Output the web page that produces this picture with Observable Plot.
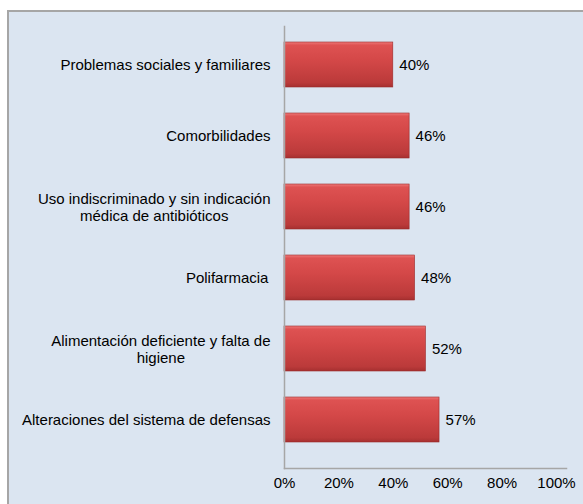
<!DOCTYPE html>
<html>
<head>
<meta charset="utf-8">
<script src="https://cdn.jsdelivr.net/npm/d3@7"></script>
<script src="https://cdn.jsdelivr.net/npm/@observablehq/plot@0.6"></script>
<style>
  html, body { margin: 0; padding: 0; background: #ffffff; overflow: hidden; width: 583px; height: 504px; }
  #box { position: absolute; left: 7px; top: 10px; width: 600px; height: 520px; border: 2px solid #a6a6a6; background: #dbe5f1; }
  #chart { position: absolute; left: 0; top: 0; }
</style>
</head>
<body>
<div id="box"></div>
<div id="chart"></div>
<script>
const categories = [
  "Problemas sociales y familiares",
  "Comorbilidades",
  "Uso indiscriminado y sin indicación\nmédica de antibióticos",
  "Polifarmacia ",
  "Alimentación deficiente y falta de\nhigiene",
  "Alteraciones del sistema de defensas"
];
const values = [40, 46, 46, 48, 52, 57];
const tickValues = [0, 20, 40, 60, 80, 100];

const data = categories.map((c, i) => ({cat: c, value: values[i]}));
const font = "'Liberation Sans', Arial, sans-serif";

const ctx = document.createElement("canvas").getContext("2d");
ctx.font = "15px 'Liberation Sans'";
const blockWidth = s => Math.max(...s.split("\n").map(l => ctx.measureText(l.trimEnd()).width));

const gradDefs = () => {
  const ns = "http://www.w3.org/2000/svg";
  const defs = document.createElementNS(ns, "defs");
  const g = document.createElementNS(ns, "linearGradient");
  g.setAttribute("id", "barGrad");
  g.setAttribute("x1", "0"); g.setAttribute("y1", "0");
  g.setAttribute("x2", "0"); g.setAttribute("y2", "1");
  [["0%", "#ef7a7a"], ["7%", "#de5252"], ["40%", "#d44848"], ["90%", "#bb3a3a"], ["100%", "#a63030"]].forEach(([o, c]) => {
    const s = document.createElementNS(ns, "stop");
    s.setAttribute("offset", o); s.setAttribute("stop-color", c);
    g.appendChild(s);
  });
  defs.appendChild(g);
  return defs;
};

const labelMarks = categories.map(c => Plot.text([c], {
  y: d => d,
  text: d => d,
  frameAnchor: "left",
  textAnchor: "middle",
  dx: -(14 + blockWidth(c) / 2),
  fontSize: 15,
  lineHeight: 1.13,
  fill: "#000000"
}));

const plot = Plot.plot({
  width: 583,
  height: 504,
  marginLeft: 284,
  marginRight: 17,
  marginTop: 26,
  marginBottom: 36,
  style: {background: "transparent", fontFamily: font, fontSize: "15px", overflow: "visible"},
  x: {domain: [0, 100], range: [284, 556], axis: null, label: null},
  y: {domain: categories, range: [29, 455], paddingInner: 0.366, paddingOuter: 0.183, axis: null, label: null},
  marks: [
    gradDefs,
    Plot.barX(data, {x: "value", y: "cat", fill: "url(#barGrad)", stroke: "#9a2a2a", strokeWidth: 0.6}),
    Plot.frame({anchor: "left", stroke: "#a6a6a6", strokeWidth: 1.5}),
    Plot.frame({anchor: "bottom", stroke: "#a6a6a6", strokeWidth: 1.5}),
    Plot.axisX(tickValues, {tickSize: 0, tickPadding: 9, tickFormat: d => d + "%", fontSize: 15, fill: "#000000", label: null}),
    Plot.text(data, {x: "value", y: "cat", text: d => d.value + "%", dx: 6, textAnchor: "start", fontSize: 15, fill: "#000000"}),
    ...labelMarks
  ]
});
document.getElementById("chart").appendChild(plot);
</script>
</body>
</html>
